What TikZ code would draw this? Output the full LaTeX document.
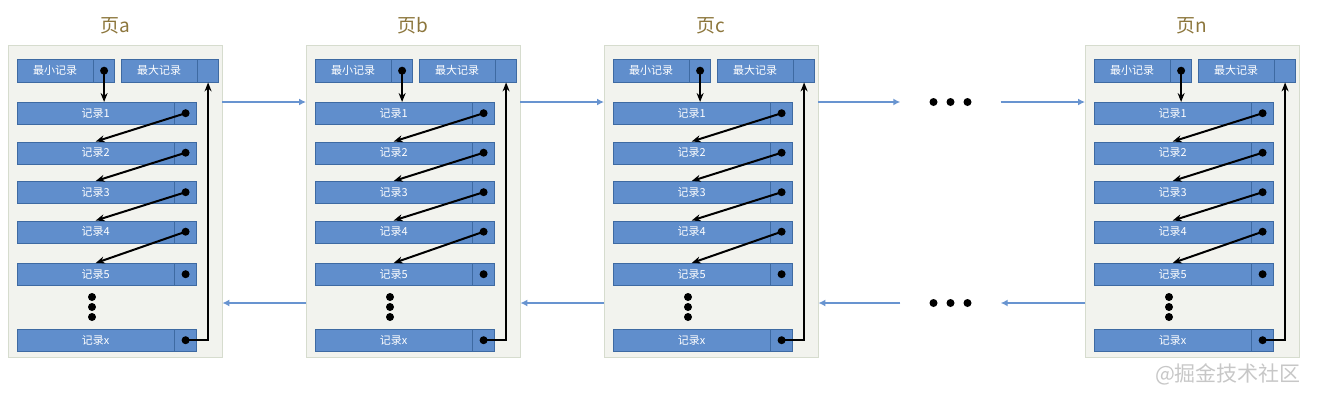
\documentclass[tikz,border=0pt]{standalone}
\usepackage{fontspec}
\newfontfamily\cjk{Noto Sans CJK SC}
\usetikzlibrary{positioning,arrows.meta}
\definecolor{pagefill}{RGB}{242,243,238}
\definecolor{pageline}{RGB}{214,220,206}
\definecolor{recblue}{RGB}{96,142,204}
\definecolor{recline}{RGB}{62,106,162}
\definecolor{linkblue}{RGB}{104,148,208}
\definecolor{titlegold}{RGB}{140,118,60}
\tikzset{
  pagebox/.style={draw=pageline, fill=pagefill, minimum width=214, minimum height=312, anchor=north west, inner sep=0},
  rec/.style={draw=recline, fill=recblue, minimum height=22, inner sep=0, anchor=north west, text=white, font=\cjk\fontsize{11}{11}\selectfont},
  pagetitle/.style={text=titlegold, font=\cjk\fontsize{19}{19}\selectfont, inner sep=0},
  ptr/.style={line width=2pt, -{Stealth[length=9pt, width=7pt]}},
  link/.style={draw=linkblue, line width=2pt, -{Latex[length=7pt, width=7pt]}},
  gap/.style={minimum width=100, inner sep=0},
  wmark/.style={text=black!22, font=\cjk\fontsize{21}{21}\selectfont, inner sep=0}
}

\begin{document}
\begin{tikzpicture}[x=1pt, y=-1pt]
\useasboundingbox (0,0) rectangle (1320,400);
\foreach \p/\x in {a/8,b/306,c/604,n/1085}{
\begin{scope}[shift={(\x,45)}]
% Page frame and title
    \node[pagebox] (\p) at (0,0) {};
    \node[pagetitle] (\p-title) at (107,-19) {页\p};
% Min and max records
    \node[rec, minimum width=76, minimum height=23] (\p-min) at (9,14) {最小记录};
    \node[rec, minimum width=21, minimum height=23, right=0pt of \p-min] (\p-minp) {};
    \node[rec, minimum width=76, minimum height=23] (\p-max) at (113,14) {最大记录};
    \node[rec, minimum width=21, minimum height=23, right=0pt of \p-max] (\p-maxp) {};
% User records
    \node[rec, minimum width=157] (\p-r1) at (9,57) {记录1};
    \node[rec, minimum width=22, right=0pt of \p-r1] (\p-r1p) {};
    \node[rec, minimum width=157] (\p-r2) at (9,96.5) {记录2};
    \node[rec, minimum width=22, right=0pt of \p-r2] (\p-r2p) {};
    \node[rec, minimum width=157] (\p-r3) at (9,136) {记录3};
    \node[rec, minimum width=22, right=0pt of \p-r3] (\p-r3p) {};
    \node[rec, minimum width=157] (\p-r4) at (9,175.5) {记录4};
    \node[rec, minimum width=22, right=0pt of \p-r4] (\p-r4p) {};
    \node[rec, minimum width=157] (\p-r5) at (9,218) {记录5};
    \node[rec, minimum width=22, right=0pt of \p-r5] (\p-r5p) {};
    \node[rec, minimum width=157] (\p-rx) at (9,284) {记录x};
    \node[rec, minimum width=22, right=0pt of \p-rx] (\p-rxp) {};
% Next-record pointers
    \draw[ptr] (\p-minp.center) -- (\p-minp.center |- \p-r1.north);
    \draw[ptr] (\p-r1p.center) -- (\p-r2.north);
    \draw[ptr] (\p-r2p.center) -- (\p-r3.north);
    \draw[ptr] (\p-r3p.center) -- (\p-r4.north);
    \draw[ptr] (\p-r4p.center) -- (\p-r5.north);
    \draw[ptr] (\p-rxp.center) -| (\p-maxp.south);
    \fill (\p-minp.center) circle (4);
    \fill (\p-r1p.center) circle (4);
    \fill (\p-r2p.center) circle (4);
    \fill (\p-r3p.center) circle (4);
    \fill (\p-r4p.center) circle (4);
    \fill (\p-r5p.center) circle (4);
    \fill (\p-rxp.center) circle (4);
% Skipped records
    \fill (84,252) circle (4);
    \fill (84,262) circle (4);
    \fill (84,272) circle (4);
\end{scope}
}
% Pages left out between c and n
\node[gap] (gapTop) at (950.5,102) {};
\node[gap] (gapBot) at (950.5,303) {};
\fill (gapTop.center) circle (4) ([xshift=-17pt]gapTop.center) circle (4) ([xshift=17pt]gapTop.center) circle (4);
\fill (gapBot.center) circle (4) ([xshift=-17pt]gapBot.center) circle (4) ([xshift=17pt]gapBot.center) circle (4);
% Links between pages
\draw[link] ([yshift=-57pt]a.north east) -- ([yshift=-57pt]b.north west);
\draw[link] ([yshift=-57pt]b.north east) -- ([yshift=-57pt]c.north west);
\draw[link] ([yshift=-57pt]c.north east) -- (gapTop.west);
\draw[link] (gapTop.east) -- ([yshift=-57pt]n.north west);
\draw[link] ([yshift=-258pt]b.north west) -- ([yshift=-258pt]a.north east);
\draw[link] ([yshift=-258pt]c.north west) -- ([yshift=-258pt]b.north east);
\draw[link] (gapBot.west) -- ([yshift=-258pt]c.north east);
\draw[link] ([yshift=-258pt]n.north west) -- (gapBot.east);
% Watermark
\node[wmark] (credit) at (1228,374) {@掘金技术社区};
\end{tikzpicture}
\end{document}
